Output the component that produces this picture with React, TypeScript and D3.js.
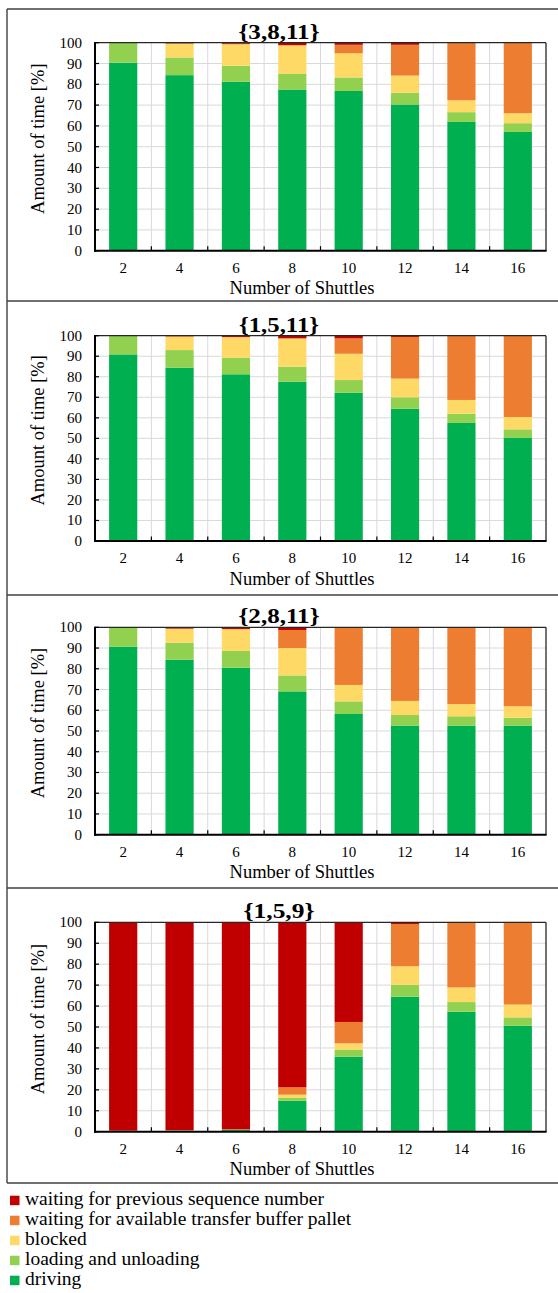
import React from "react";
import * as d3 from "d3";

// ---- data ----
const categories = [2, 4, 6, 8, 10, 12, 14, 16];
const yTicks = [0, 10, 20, 30, 40, 50, 60, 70, 80, 90, 100];
const seriesKeys = ["driving", "loading", "blocked", "buffer", "sequence"];
const seriesLabels = [
  "driving",
  "loading and unloading",
  "blocked",
  "waiting for available transfer buffer pallet",
  "waiting for previous sequence number",
];
const panelTitles = ["{3,8,11}", "{1,5,11}", "{2,8,11}", "{1,5,9}"];

// {3,8,11}
const driving_3_8_11 = [90.4, 84.4, 81.2, 77.5, 76.8, 70.3, 61.9, 57.1];
const loading_3_8_11 = [9.6, 8.5, 7.7, 7.5, 6.5, 5.6, 4.7, 4.2];
const blocked_3_8_11 = [0, 6.6, 10.3, 13.6, 11.6, 8.3, 5.7, 4.8];
const buffer_3_8_11 = [0, 0.2, 0.3, 0.3, 4.1, 14.8, 27.5, 33.9];
const sequence_3_8_11 = [0, 0.3, 0.5, 1.1, 1.0, 1.0, 0.2, 0];

// {1,5,11}
const driving_1_5_11 = [90.9, 84.4, 81.2, 77.6, 72.2, 64.4, 57.5, 50.2];
const loading_1_5_11 = [9.1, 8.6, 8.1, 7.3, 6.2, 5.6, 4.5, 4.2];
const blocked_1_5_11 = [0, 6.7, 9.9, 13.6, 12.8, 9.1, 6.7, 6.0];
const buffer_1_5_11 = [0, 0, 0.2, 0.3, 7.5, 20.3, 31.2, 39.6];
const sequence_1_5_11 = [0, 0.3, 0.6, 1.2, 1.3, 0.6, 0.1, 0];

// {2,8,11}
const driving_2_8_11 = [90.7, 84.4, 80.5, 69.1, 58.2, 52.6, 52.6, 52.6];
const loading_2_8_11 = [9.3, 8.2, 8.1, 7.7, 6.1, 5.1, 4.5, 3.8];
const blocked_2_8_11 = [0, 6.6, 10.4, 13.2, 7.9, 6.8, 5.9, 5.5];
const buffer_2_8_11 = [0, 0.2, 0.2, 8.7, 27.8, 35.5, 37.0, 38.1];
const sequence_2_8_11 = [0, 0.6, 0.8, 1.3, 0, 0, 0, 0];

// {1,5,9}
const driving_1_5_9 = [0.2, 0.4, 0.8, 14.8, 35.8, 64.5, 57.3, 50.6];
const loading_1_5_9 = [0.3, 0.3, 0.3, 1.3, 3.4, 5.6, 4.6, 4.0];
const blocked_1_5_9 = [0, 0, 0, 1.6, 3.0, 8.9, 7.0, 6.1];
const buffer_1_5_9 = [0, 0, 0, 3.5, 10.2, 20.2, 31.1, 39.3];
const sequence_1_5_9 = [99.5, 99.3, 98.9, 78.8, 47.6, 0.8, 0, 0];

const panelSeries = [
  [driving_3_8_11, loading_3_8_11, blocked_3_8_11, buffer_3_8_11, sequence_3_8_11],
  [driving_1_5_11, loading_1_5_11, blocked_1_5_11, buffer_1_5_11, sequence_1_5_11],
  [driving_2_8_11, loading_2_8_11, blocked_2_8_11, buffer_2_8_11, sequence_2_8_11],
  [driving_1_5_9, loading_1_5_9, blocked_1_5_9, buffer_1_5_9, sequence_1_5_9],
];

// ---- styles / layout ----
const colors: Record<string, string> = {
  driving: "#00B050",
  loading: "#92D050",
  blocked: "#FFD966",
  buffer: "#ED7D31",
  sequence: "#C00000",
};
const FONT = "'Liberation Serif', 'Times New Roman', serif";
const W = 558;
const H = 1293;
const plotLeft = 95;
const plotRight = 546;
const panelLines = [9, 301, 595, 888, 1183];
const panelPlot = [
  [42.7, 250.7],
  [335.7, 541],
  [627.3, 834.7],
  [922.3, 1131.7],
];
const titleWidths = [81, 80, 81, 71];

const x = d3
  .scaleBand<number>()
  .domain(categories)
  .range([plotLeft, plotRight])
  .paddingInner(0.5)
  .paddingOuter(0.25);

function Panel({ idx }: { idx: number }) {
  const [top, bottom] = panelPlot[idx];
  const y = d3.scaleLinear().domain([0, 100]).range([bottom, top]);
  const rows = categories.map((c, i) => {
    const r: any = { cat: c };
    seriesKeys.forEach((k, s) => (r[k] = panelSeries[idx][s][i]));
    return r;
  });
  const stacked = d3.stack<any>().keys(seriesKeys)(rows);
  const step = x.step();
  const boundaries = categories.slice(1).map((c) => (x(c) as number) - (step * x.paddingInner()) / 2);
  const midY = (top + bottom) / 2;
  return (
    <g>
      {/* gridlines */}
      {yTicks.slice(1, -1).map((t) => (
        <line key={"h" + t} x1={plotLeft} x2={plotRight} y1={y(t)} y2={y(t)} stroke="#d9d9d9" strokeWidth={1} />
      ))}
      {boundaries.map((b, i) => (
        <line key={"v" + i} x1={b} x2={b} y1={top} y2={bottom} stroke="#d9d9d9" strokeWidth={1} />
      ))}
      {/* bars */}
      {stacked.map((layer) => (
        <g key={layer.key} fill={colors[layer.key]}>
          {layer.map((d, i) => {
            const h = y(d[0]) - y(d[1]);
            if (h <= 0) return null;
            return (
              <rect key={i} x={x(categories[i])} y={y(d[1])} width={x.bandwidth()} height={h} />
            );
          })}
        </g>
      ))}
      {/* frame */}
      <line x1={plotLeft} x2={plotRight} y1={top} y2={top} stroke="#262626" strokeWidth={1.3} />
      <line x1={plotRight} x2={plotRight} y1={top} y2={bottom} stroke="#262626" strokeWidth={1.3} />
      <line x1={plotLeft} x2={plotLeft} y1={top - 0.6} y2={bottom + 1} stroke="#000" strokeWidth={2} />
      <line x1={plotLeft - 1} x2={plotRight + 0.6} y1={bottom} y2={bottom} stroke="#000" strokeWidth={2} />
      {/* ticks */}
      {yTicks.map((t) => (
        <line key={"yt" + t} x1={plotLeft} x2={plotLeft + 4} y1={y(t)} y2={y(t)} stroke="#000" strokeWidth={1.2} />
      ))}
      {boundaries.map((b, i) => (
        <line key={"xt" + i} x1={b} x2={b} y1={bottom} y2={bottom - 4.5} stroke="#000" strokeWidth={1.2} />
      ))}
      {/* tick labels */}
      {yTicks.map((t) => (
        <text key={"yl" + t} x={82} y={y(t) + 5} textAnchor="end" fontSize={15} fontFamily={FONT} fill="#000">
          {t}
        </text>
      ))}
      {categories.map((c) => (
        <text
          key={"xl" + c}
          x={(x(c) as number) + x.bandwidth() / 2}
          y={bottom + 22}
          textAnchor="middle"
          fontSize={15}
          fontFamily={FONT}
          fill="#000"
        >
          {c}
        </text>
      ))}
      {/* titles */}
      <text
        x={279 - titleWidths[idx] / 2}
        y={top - 4}
        textLength={titleWidths[idx]}
        lengthAdjust="spacingAndGlyphs"
        fontSize={22}
        fontWeight="bold"
        fontFamily={FONT}
        fill="#000"
      >
        {panelTitles[idx]}
      </text>
      <text x={302} y={bottom + 43.5} textAnchor="middle" fontSize={18.5} fontFamily={FONT} fill="#000">
        Number of Shuttles
      </text>
      <text
        transform={`translate(44,${midY - 8}) rotate(-90)`}
        textAnchor="middle"
        fontSize={18.5}
        fontFamily={FONT}
        fill="#000"
      >
        Amount of time [%]
      </text>
    </g>
  );
}

export default function App() {
  const legendOrder = [4, 3, 2, 1, 0];
  return (
    <svg
      width={W}
      height={H}
      viewBox={`0 0 ${W} ${H}`}
      style={{ position: "absolute", left: 0, top: 0, background: "#fff" }}
    >
      <rect x={0} y={0} width={W} height={H} fill="#fff" />
      {panelLines.map((py, i) => (
        <line key={"pl" + i} x1={7} x2={W + 2} y1={py} y2={py} stroke="#404040" strokeWidth={1.4} />
      ))}
      <line x1={7} x2={7} y1={panelLines[0]} y2={panelLines[panelLines.length - 1]} stroke="#404040" strokeWidth={1.4} />
      {panelTitles.map((_, i) => (
        <Panel key={i} idx={i} />
      ))}
      {legendOrder.map((s, i) => (
        <g key={"lg" + s}>
          <rect x={10} y={1195.7 + i * 20} width={9.5} height={9.5} fill={colors[seriesKeys[s]]} />
          <text x={25} y={1205 + i * 20} fontSize={19.5} fontFamily={FONT} fill="#000">
            {seriesLabels[s]}
          </text>
        </g>
      ))}
    </svg>
  );
}
